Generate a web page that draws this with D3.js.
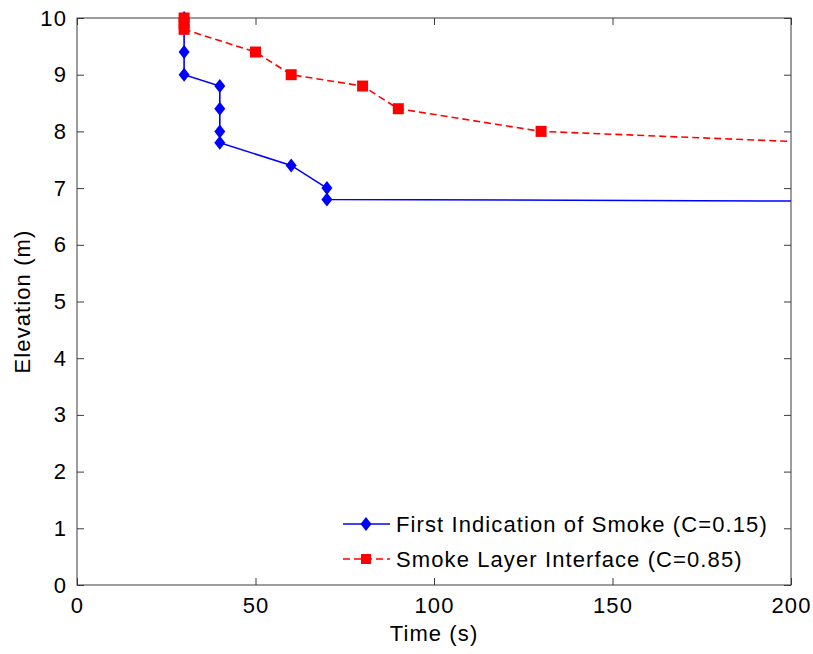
<!DOCTYPE html>
<html><head><meta charset="utf-8">
<script src="https://cdn.jsdelivr.net/npm/d3@7"></script>
<style>body{margin:0;background:#fff}svg{font-family:"Liberation Sans",Arial,sans-serif}</style>
</head><body><svg id="c" width="813" height="654"></svg>
<script>
const firstTime = [30, 30, 30, 40, 40, 40, 40, 60, 70, 70, 300];
const firstElev = [10, 9.4, 9.0, 8.8, 8.4, 8.0, 7.8, 7.4, 7.0, 6.8, 6.75];
const firstMarker = [1,1,1,1,1,1,1,1,1,1,0];
const layerTime = [30, 30, 30, 50, 60, 80, 90, 130, 300];
const layerElev = [10, 9.9, 9.8, 9.4, 9.0, 8.8, 8.4, 8.0, 7.57];
const layerMarker = [1,1,1,1,1,1,1,1,0];
const xTicks = [0, 50, 100, 150, 200];
const yTicks = [0,1,2,3,4,5,6,7,8,9,10];
const seriesNames = ["First Indication of Smoke (C=0.15)", "Smoke Layer Interface (C=0.85)"];

const svg = d3.select("#c");
const L=77, R=791, T=18, B=585;
const x = d3.scaleLinear().domain([0,200]).range([L,R]);
const y = d3.scaleLinear().domain([0,10]).range([B,T]);
const axisColor = "#3a3a3a";
const LS = "1.1px";

svg.append("defs").append("clipPath").attr("id","clip").append("rect")
  .attr("x",L).attr("y",T-10).attr("width",R-L).attr("height",B-T+10);

const fs = "22px";
const gx = svg.append("g").attr("transform",`translate(0,${B})`)
  .call(d3.axisBottom(x).tickValues(xTicks).tickSizeInner(-7).tickSizeOuter(0).tickPadding(12));
const gxt = svg.append("g").attr("transform",`translate(0,${T})`)
  .call(d3.axisTop(x).tickValues(xTicks).tickSizeInner(-7).tickSizeOuter(0).tickFormat(""));
const gy = svg.append("g").attr("transform",`translate(${L},0)`)
  .call(d3.axisLeft(y).tickValues(yTicks).tickSizeInner(-7).tickSizeOuter(0).tickPadding(10));
const gyr = svg.append("g").attr("transform",`translate(${R},0)`)
  .call(d3.axisRight(y).tickValues(yTicks).tickSizeInner(-7).tickSizeOuter(0).tickFormat(""));
[gx,gxt,gy,gyr].forEach(g=>{
  g.select(".domain").remove();
  g.selectAll(".tick line").attr("stroke",axisColor);
  g.selectAll("text").attr("font-size",fs).attr("fill","#000").attr("letter-spacing",LS)
    .attr("font-family","Liberation Sans, Arial, sans-serif");
});
svg.append("rect").attr("x",L).attr("y",T).attr("width",R-L).attr("height",B-T)
  .attr("fill","none").attr("stroke",axisColor).attr("stroke-width",1);

svg.append("text").attr("x",(L+R)/2).attr("y",641).attr("text-anchor","middle")
  .attr("font-size","22px").attr("letter-spacing",LS).text("Time (s)");
svg.append("text").attr("transform",`translate(30,${(T+B)/2}) rotate(-90)`).attr("text-anchor","middle")
  .attr("font-size","22px").attr("letter-spacing",LS).text("Elevation (m)");

const line = d3.line().x(d=>x(d[0])).y(d=>y(d[1]));
const blueData = firstTime.map((t,i)=>[t, firstElev[i], firstMarker[i]]);
const redData = layerTime.map((t,i)=>[t, layerElev[i], layerMarker[i]]);
const plot = svg.append("g").attr("clip-path","url(#clip)");

plot.append("path").datum(blueData).attr("d",line).attr("fill","none")
  .attr("stroke","#0000ff").attr("stroke-width",1.6);
plot.append("path").datum(redData).attr("d",line).attr("fill","none")
  .attr("stroke","#ff0000").attr("stroke-width",1.6).attr("stroke-dasharray","7,4");

const diamond = (cx,cy)=>`M${cx},${cy-7}L${cx+5.5},${cy}L${cx},${cy+7}L${cx-5.5},${cy}Z`;
svg.append("g").selectAll("path").data(blueData.filter(d=>d[2])).join("path")
  .attr("d",d=>diamond(x(d[0]),y(d[1]))).attr("fill","#0000ff");
svg.append("g").selectAll("rect").data(redData.filter(d=>d[2])).join("rect")
  .attr("x",d=>x(d[0])-5.5).attr("y",d=>y(d[1])-5.5).attr("width",11).attr("height",11).attr("fill","#ff0000");

const lg = svg.append("g");
const ly = [524, 559];
lg.append("line").attr("x1",343).attr("x2",390).attr("y1",ly[0]).attr("y2",ly[0]).attr("stroke","#0000ff").attr("stroke-width",1.6);
lg.append("path").attr("d",diamond(366,ly[0])).attr("fill","#0000ff");
lg.append("line").attr("x1",343).attr("x2",390).attr("y1",ly[1]).attr("y2",ly[1]).attr("stroke","#ff0000").attr("stroke-width",1.6).attr("stroke-dasharray","7,4");
lg.append("rect").attr("x",361).attr("y",ly[1]-5).attr("width",10).attr("height",10).attr("fill","#ff0000");
seriesNames.forEach((n,i)=>{
  lg.append("text").attr("x",396).attr("y",ly[i]+8).attr("font-size","22px").attr("letter-spacing",LS).text(n);
});
</script></body></html>
